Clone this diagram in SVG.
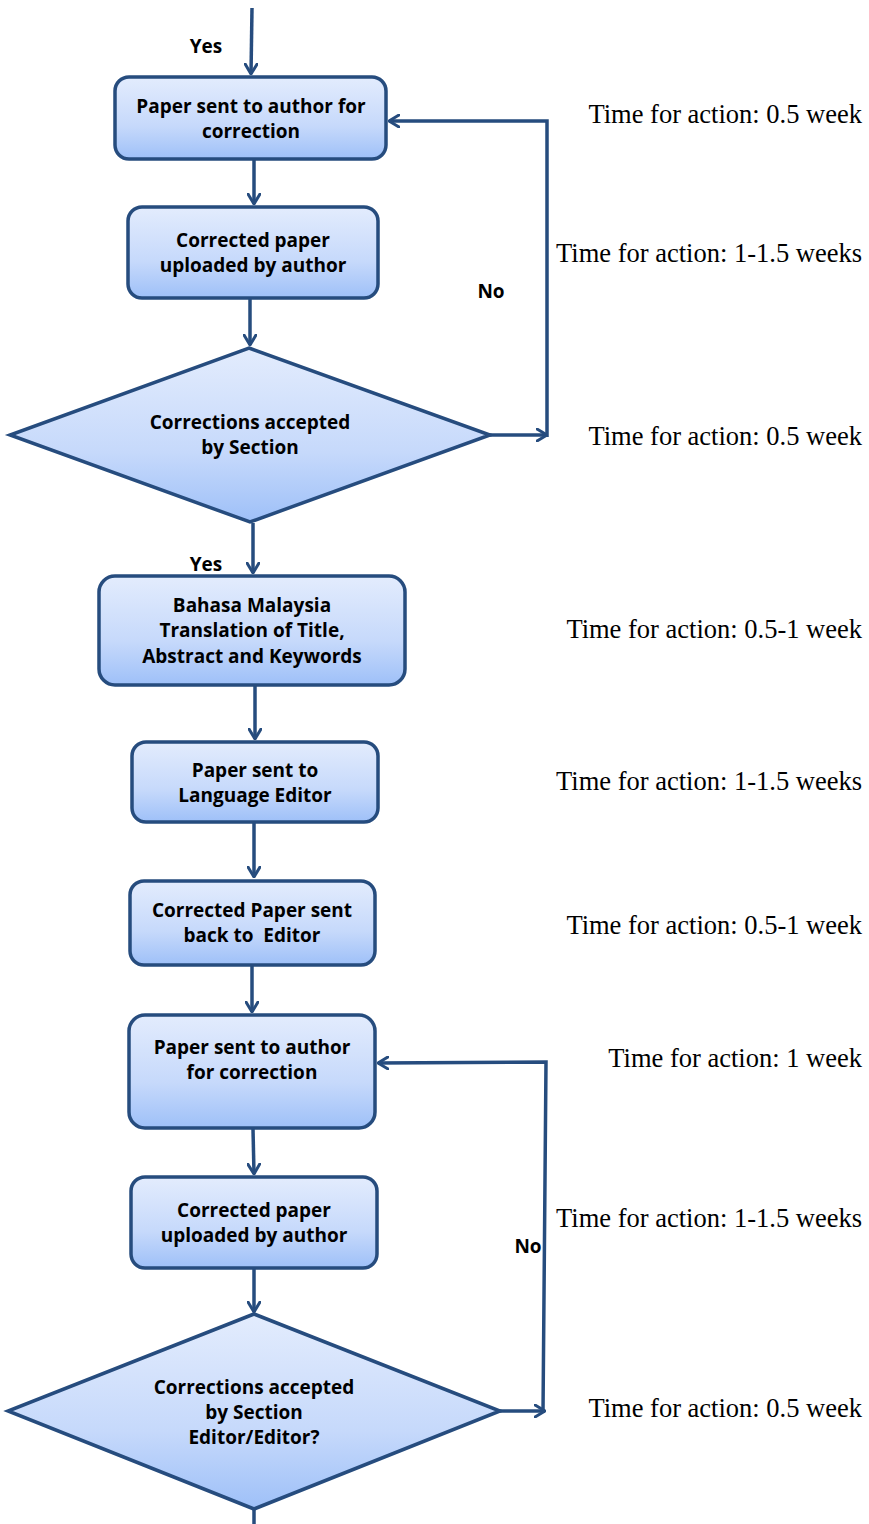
<svg xmlns="http://www.w3.org/2000/svg" width="869" height="1524" viewBox="0 0 869 1524">
<defs>
<linearGradient id="fill" x1="0" y1="0" x2="0" y2="1">
<stop offset="0" stop-color="#e3ecfd"/>
<stop offset="0.6" stop-color="#c6d9fb"/>
<stop offset="1" stop-color="#9ec0f8"/>
</linearGradient>
<marker id="arr" viewBox="0 0 12 14" refX="11" refY="7" markerWidth="12" markerHeight="14" markerUnits="userSpaceOnUse" orient="auto">
<path d="M1,1 L11,7 L1,13" fill="none" stroke="#264c7e" stroke-width="3" stroke-linecap="round" stroke-linejoin="round"/>
</marker>
<style>
.box{fill:url(#fill);stroke:#264c7e;stroke-width:3.5}
.lbl{font-family:"Open Sans","DejaVu Sans",sans-serif;font-weight:bold;font-size:19px;fill:#000;text-anchor:middle}
.edge{fill:none;stroke:#264c7e;stroke-width:3.5}
.time{font-family:"Liberation Serif","Times New Roman",serif;font-size:26.5px;fill:#000;text-anchor:end}
</style>
</defs>
<rect width="869" height="1524" fill="#fff"/>

<g id="connectors">
<path class="edge" d="M252,8 L251,74" marker-end="url(#arr)"/>
<path class="edge" d="M254,160 L254,204" marker-end="url(#arr)"/>
<path class="edge" d="M250,299 L250,345" marker-end="url(#arr)"/>
<path class="edge" d="M490,435 L547,435" marker-end="url(#arr)"/>
<path class="edge" d="M547,437 L547,121 L389,121" marker-end="url(#arr)"/>
<path class="edge" d="M253,523 L253,573" marker-end="url(#arr)"/>
<path class="edge" d="M255,686 L255,739" marker-end="url(#arr)"/>
<path class="edge" d="M254,823 L254,877" marker-end="url(#arr)"/>
<path class="edge" d="M252,966 L252,1012" marker-end="url(#arr)"/>
<path class="edge" d="M253,1129 L254,1174" marker-end="url(#arr)"/>
<path class="edge" d="M254,1269 L254,1312" marker-end="url(#arr)"/>
<path class="edge" d="M500,1411 L545,1411" marker-end="url(#arr)"/>
<path class="edge" d="M543,1413 L546,1062 L378,1063" marker-end="url(#arr)"/>
<path class="edge" d="M254,1509 L254,1524"/>
</g>

<g id="edge-labels">
<text class="lbl" x="206" y="53">Yes</text>
<text class="lbl" x="491" y="298">No</text>
<text class="lbl" x="206" y="571">Yes</text>
<text class="lbl" x="528" y="1253">No</text>
</g>

<g id="n1">
<rect class="box" x="115" y="77" width="271" height="82" rx="14"/>
<text class="lbl" x="251" y="113">Paper sent to author for</text>
<text class="lbl" x="251" y="138">correction</text>
</g>
<g id="n2">
<rect class="box" x="128" y="207" width="250" height="91" rx="14"/>
<text class="lbl" x="253" y="247">Corrected paper</text>
<text class="lbl" x="253" y="272">uploaded by author</text>
</g>
<g id="d1">
<polygon class="box" points="249,348 490,435 250,522 10,435"/>
<text class="lbl" x="250" y="429">Corrections accepted</text>
<text class="lbl" x="250" y="454">by Section</text>
</g>
<g id="n3">
<rect class="box" x="99" y="576" width="306" height="109" rx="16"/>
<text class="lbl" x="252" y="612">Bahasa Malaysia</text>
<text class="lbl" x="252" y="637">Translation of Title,</text>
<text class="lbl" x="252" y="663">Abstract and Keywords</text>
</g>
<g id="n4">
<rect class="box" x="132" y="742" width="246" height="80" rx="14"/>
<text class="lbl" x="255" y="777">Paper sent to</text>
<text class="lbl" x="255" y="802">Language Editor</text>
</g>
<g id="n5">
<rect class="box" x="130" y="881" width="245" height="84" rx="14"/>
<text class="lbl" x="252" y="917" xml:space="preserve">Corrected Paper sent</text>
<text class="lbl" x="252" y="942" xml:space="preserve">back to  Editor</text>
</g>
<g id="n6">
<rect class="box" x="129" y="1015" width="246" height="113" rx="16"/>
<text class="lbl" x="252" y="1054">Paper sent to author</text>
<text class="lbl" x="252" y="1079">for correction</text>
</g>
<g id="n7">
<rect class="box" x="131" y="1177" width="246" height="91" rx="14"/>
<text class="lbl" x="254" y="1217">Corrected paper</text>
<text class="lbl" x="254" y="1242">uploaded by author</text>
</g>
<g id="d2">
<polygon class="box" points="254,1314 500,1411 254,1509 8,1411"/>
<text class="lbl" x="254" y="1394">Corrections accepted</text>
<text class="lbl" x="254" y="1419">by Section</text>
<text class="lbl" x="254" y="1444">Editor/Editor?</text>
</g>

<g id="times">
<text class="time" x="862" y="123">Time for action: 0.5 week</text>
<text class="time" x="862" y="262">Time for action: 1-1.5 weeks</text>
<text class="time" x="862" y="445">Time for action: 0.5 week</text>
<text class="time" x="862" y="638">Time for action: 0.5-1 week</text>
<text class="time" x="862" y="790">Time for action: 1-1.5 weeks</text>
<text class="time" x="862" y="934">Time for action: 0.5-1 week</text>
<text class="time" x="862" y="1067">Time for action: 1 week</text>
<text class="time" x="862" y="1227">Time for action: 1-1.5 weeks</text>
<text class="time" x="862" y="1417">Time for action: 0.5 week</text>
</g>
</svg>
